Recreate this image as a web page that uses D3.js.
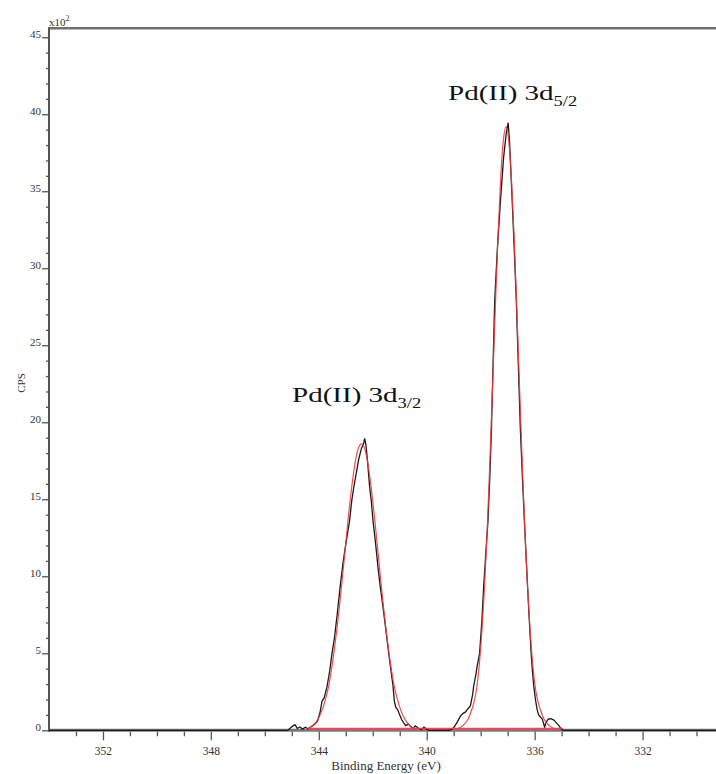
<!DOCTYPE html>
<meta charset="utf-8">
<style>
body {
  margin: 0;
  background: #fff;
}
svg text {
  font-family: "Liberation Serif", "DejaVu Serif", serif;
  fill: #333;
}
.axis path {
  display: none;
}
.axis line {
  stroke: #555;
  stroke-width: 1.3px;
}
.spectrum {
  fill: none;
  stroke: #1a1a1a;
  stroke-width: 1.3px;
}
.fit {
  fill: none;
  stroke: #ef3b3b;
  stroke-width: 1.2px;
  opacity: 0.9;
}
</style>
<body>
<svg width="716" height="774"></svg>
<script src="https://d3js.org/d3.v7.min.js"></script>
<script>
// binding energy (eV) vs counts (CPS x 10^2)
var spectrum = [
  [354, 0], [345.15, 0], [345.05, 0.15], [344.95, 0.3], [344.88, 0.35], [344.8, 0.12],
  [344.7, 0.22], [344.6, 0.08], [344.5, 0.2], [344.4, 0.1], [344.3, 0.22], [344.15, 0.4],
  [344.05, 0.6], [343.95, 1.2], [343.88, 1.9], [343.8, 2.1], [343.7, 2.8], [343.6, 3.8],
  [343.51, 5.0], [343.42, 6.0], [343.32, 7.5], [343.21, 9.3], [343.1, 10.9], [342.98, 12.3],
  [342.86, 13.6], [342.78, 14.9], [342.71, 15.7], [342.62, 16.6], [342.52, 17.6], [342.42, 18.3],
  [342.34, 18.6], [342.3, 18.95], [342.25, 18.5], [342.18, 17.2], [342.12, 15.9], [342.05, 14.8],
  [341.99, 13.6], [341.9, 12.2], [341.8, 10.5], [341.72, 9.3], [341.62, 8.0], [341.52, 6.6],
  [341.41, 5.0], [341.32, 3.8], [341.25, 2.9], [341.2, 1.9], [341.15, 1.5], [341.08, 1.35],
  [341.0, 1.0], [340.93, 0.7], [340.86, 0.5], [340.78, 0.3], [340.68, 0.4], [340.6, 0.25],
  [340.5, 0.12], [340.42, 0.28], [340.32, 0.15], [340.2, 0.05], [340.1, 0.2], [340.0, 0.05],
  [339.9, 0], [339.15, 0], [339.0, 0.17], [338.88, 0.5], [338.75, 0.92], [338.65, 1.1],
  [338.57, 1.18], [338.45, 1.45], [338.38, 1.6], [338.3, 2.3], [338.26, 2.86], [338.18, 3.6],
  [338.13, 4.16], [338.04, 5.0], [337.96, 7.0], [337.89, 9.3], [337.81, 11.5], [337.73, 13.6],
  [337.66, 16.5], [337.6, 19.6], [337.54, 23.8], [337.48, 27.9], [337.38, 31.3], [337.27, 34.3],
  [337.15, 37.2], [337.05, 38.8], [336.98, 39.45], [336.93, 38.2], [336.83, 34.3], [336.75, 31.0],
  [336.68, 27.9], [336.6, 23.5], [336.53, 19.6], [336.45, 16.3], [336.38, 13.6], [336.32, 11.4],
  [336.26, 9.3], [336.2, 7.2], [336.13, 5.0], [336.08, 3.8], [336.03, 2.84], [335.97, 2.0],
  [335.91, 1.36], [335.85, 1.0], [335.78, 0.85], [335.72, 0.75], [335.67, 0.45], [335.63, 0.2],
  [335.58, 0.5], [335.5, 0.72], [335.4, 0.75], [335.3, 0.68], [335.2, 0.5], [335.1, 0.3],
  [335.03, 0.12], [334.95, 0], [328, 0]
];

var fit3d32 = [
  [344.42, 0.1], [344.22, 0.3], [344.02, 0.74], [343.82, 1.6], [343.62, 3.0], [343.42, 5.3],
  [343.32, 6.7], [343.22, 8.3], [343.12, 10.0], [343.02, 11.8], [342.92, 13.6], [342.82, 15.2],
  [342.72, 16.6], [342.62, 17.7], [342.52, 18.4], [342.42, 18.6], [342.32, 18.4], [342.22, 17.7],
  [342.12, 16.6], [342.02, 15.2], [341.92, 13.6], [341.82, 11.8], [341.72, 10.0], [341.62, 8.3],
  [341.52, 6.7], [341.42, 5.3], [341.22, 3.0], [341.02, 1.6], [340.82, 0.74], [340.62, 0.3],
  [340.42, 0.1]
];

var fit3d52 = [
  [338.86, 0.1], [338.66, 0.3], [338.46, 0.75], [338.36, 1.2], [338.26, 1.75], [338.16, 2.6],
  [338.06, 4.1], [337.96, 6.3], [337.86, 9.2], [337.76, 12.9], [337.66, 17.4], [337.56, 22.3],
  [337.46, 27.3], [337.36, 32.0], [337.26, 35.8], [337.16, 38.3], [337.06, 39.2], [336.96, 38.3],
  [336.86, 35.8], [336.76, 32.0], [336.66, 27.3], [336.56, 22.3], [336.46, 17.4], [336.36, 12.9],
  [336.26, 9.2], [336.16, 6.3], [336.06, 4.1], [335.96, 2.6], [335.86, 1.75], [335.76, 1.2],
  [335.66, 0.75], [335.46, 0.3], [335.26, 0.1]
];

var fitBaseline = [[344.4, 0.12], [334.95, 0.12]];

var xMajorTicks = [352, 348, 344, 340, 336, 332];
var yMajorTicks = [0, 5, 10, 15, 20, 25, 30, 35, 40, 45];

var svg = d3.select("svg"),
    plotLeft = 49, plotTop = 28.3, plotBottom = 730.3, plotRight = 716;

var x = d3.scaleLinear().domain([354, 328]).range([plotLeft, plotLeft + 26 * 26.98]);
var y = d3.scaleLinear().domain([0, 45.58]).range([plotBottom, plotTop]);

var line = d3.line()
    .x(function(d) { return x(d[0]); })
    .y(function(d) { return y(d[1]); });

var smooth = d3.line()
    .curve(d3.curveMonotoneX)
    .x(function(d) { return x(d[0]); })
    .y(function(d) { return y(d[1]); });

// minor + major x ticks
var xMinor = d3.range(329, 354).filter(function(v) { return xMajorTicks.indexOf(v) < 0; });
svg.append("g")
    .attr("class", "axis")
    .attr("transform", "translate(0," + (plotBottom + 1) + ")")
    .call(d3.axisBottom(x).tickValues(xMinor).tickSize(5).tickFormat(""));
svg.append("g")
    .attr("class", "axis")
    .attr("transform", "translate(0," + (plotBottom + 1) + ")")
    .call(d3.axisBottom(x).tickValues(xMajorTicks).tickSize(9).tickPadding(7).tickFormat(d3.format("d")))
  .selectAll("text")
    .style("font-size", "11.5px");

// y ticks
var yMinor = d3.range(0, 46).filter(function(v) { return v % 5 !== 0; });
svg.append("g")
    .attr("class", "axis")
    .attr("transform", "translate(" + plotLeft + ",0)")
    .call(d3.axisLeft(y).tickValues(yMinor).tickSize(3).tickFormat(""));
svg.append("g")
    .attr("class", "axis")
    .attr("transform", "translate(" + plotLeft + ",0)")
    .call(d3.axisLeft(y).tickValues(yMajorTicks).tickSize(7).tickPadding(1))
  .selectAll("text")
    .attr("dy", "0")
    .style("font-size", "11px");

// frame lines
svg.append("line")
    .attr("x1", plotLeft).attr("x2", plotRight).attr("y1", plotTop).attr("y2", plotTop)
    .attr("stroke", "#707070").attr("stroke-width", 2.5);
svg.append("line")
    .attr("x1", plotLeft).attr("x2", plotRight).attr("y1", plotBottom).attr("y2", plotBottom)
    .attr("stroke", "#7a7a7a").attr("stroke-width", 3);
svg.append("line")
    .attr("x1", plotLeft).attr("x2", plotLeft).attr("y1", plotTop - 1).attr("y2", plotBottom + 1.5)
    .attr("stroke", "#555").attr("stroke-width", 2);

// data and fits
svg.append("path").attr("class", "spectrum").attr("d", line(spectrum));
svg.append("path").attr("class", "fit").attr("d", line(fitBaseline));
svg.append("path").attr("class", "fit").attr("d", smooth(fit3d32));
svg.append("path").attr("class", "fit").attr("d", smooth(fit3d52));

// axis titles
svg.append("text")
    .attr("x", 386).attr("y", 770)
    .attr("text-anchor", "middle")
    .style("font-size", "13px")
    .text("Binding Energy (eV)");

svg.append("text")
    .attr("transform", "translate(25,383) rotate(-90)")
    .attr("text-anchor", "middle")
    .style("font-size", "11px")
    .text("CPS");

var mult = svg.append("text")
    .attr("x", 49).attr("y", 26)
    .style("font-size", "11px");
mult.append("tspan").text("x10");
mult.append("tspan").attr("dy", -5).style("font-size", "8px").text("2");

// peak labels
function peakLabel(px, py, sub) {
  var t = svg.append("text")
      .attr("transform", "translate(" + px + "," + py + ") scale(1.32,1)")
      .style("font-size", "22px")
      .style("fill", "#111");
  t.append("tspan").text("Pd(II) 3d");
  t.append("tspan").attr("dy", 6).style("font-size", "14px").text(sub);
}
peakLabel(448, 100, "5/2");
peakLabel(292, 402, "3/2");
</script>
</body>
